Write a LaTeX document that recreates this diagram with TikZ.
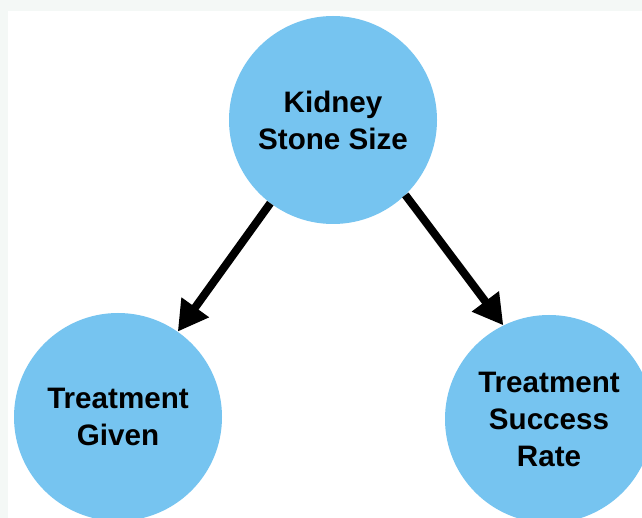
\documentclass[tikz,border=0pt]{standalone}
\usepackage{fontspec}
\setmainfont{Liberation Sans}
\usetikzlibrary{arrows.meta}

\definecolor{nodeblue}{RGB}{118,196,240}
\definecolor{framegray}{RGB}{244,248,246}

\tikzset{
  varnode/.style={circle, fill=nodeblue, minimum size=208pt, inner sep=0pt,
    align=center, font=\fontsize{29.6}{37}\selectfont\bfseries},
  causal/.style={line width=8pt, -{Triangle[length=30pt,width=32pt]}}
}

\begin{document}
\begin{tikzpicture}[x=1pt,y=-1pt]
  % canvas with a thin grey frame on the top and left
  \fill[framegray] (0,0) rectangle (642,518);
  \fill[white] (8,11) rectangle (642,518);
  \useasboundingbox (0,0) rectangle (642,518);

  \begin{scope}
    \clip (8,11) rectangle (642,518);
    \node[varnode] (size) at (333,120) {Kidney\\Stone Size};
    \node[varnode] (given) at (118,417) {Treatment\\Given};
    \node[varnode] (rate) at (549,419) {Treatment\\Success\\Rate};
  \end{scope}

  \draw[causal] (size.-127.4) -- (given.55.8);
  \draw[causal] (size.-46.6) -- (rate.116.1);
\end{tikzpicture}
\end{document}
